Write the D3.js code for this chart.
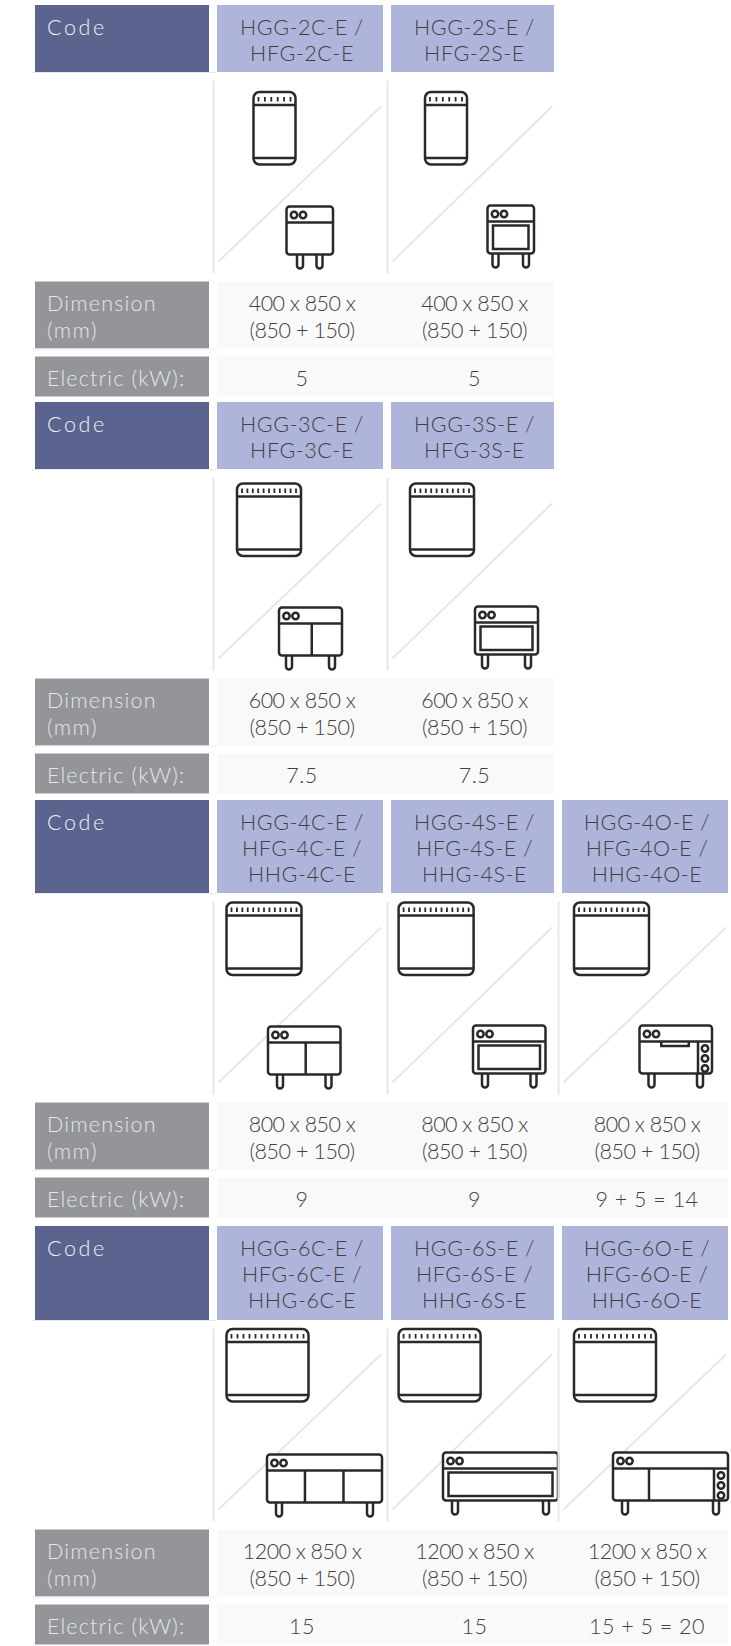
<!DOCTYPE html>
<html>
<head>
<meta charset="utf-8">
<script src="https://cdn.jsdelivr.net/npm/d3@7"></script>
<style>
  body { margin: 0; background: #fff; }
  text { font-family: Lato, sans-serif; font-weight: 300; font-size: 21.5px; }
</style>
</head>
<body>
<div id="chart"></div>
<script>
// table content
var sizes = ["2", "3", "4", "6"];
var suffixes = ["C", "S", "O"];
var brands2 = ["HGG", "HFG"];
var brands3 = ["HGG", "HFG", "HHG"];
var widths = [400, 600, 800, 1200];
var electric = [["5", "5"], ["7.5", "7.5"], ["9", "9", "9 + 5 = 14"], ["15", "15", "15 + 5 = 20"]];
var tickCounts = [6, 11, 13, 13];

// layout
var W = 731, H = 1646;
var sectionTop = [5, 402, 800, 1226];
var headHeight = [67, 67, 93, 94];
var columns = ["label", "c0", "c1", "c2"];
var colLeft = d3.scaleOrdinal().domain(columns).range([35, 217, 391, 562]);
var colRight = d3.scaleOrdinal().domain(columns).range([209, 383, 554, 728]);

// icon placement, per section: left of the tall unit, its width, its top offset
var topIconLeft = [[36.5, 34], [20, 19], [9.5, 7.6, 12], [9.5, 7.6, 12]];
var topIconWidth = [42, 64, 75, 82];
var topIconTop = [11.5, 6, 1, 0.5];
var botLeft = [[69.5, 96.5], [62, 84], [51, 82, 77.5], [50, 52, 51]];
var botWidth = [46.5, 63, 72.5, 115];
var botTop = [[126, 125], [130, 129], [125, 124, 124], [126, 124, 124]];
var bodyHeight = 48;
var legInset = [[13.5, 8], [10, 10], [12, 12, 12], [12, 12, 12]];

var ink = "#2b2829", rule = "#e6e7e8";

var svg = d3.select("#chart").append("svg")
  .attr("width", W).attr("height", H).style("display", "block");

function cellText(g, lines, x, y, anchor, fill, tracking) {
  g.append("g").selectAll("text").data(lines).join("text")
    .attr("x", x)
    .attr("y", function (d, i) { return y + i * 26.3; })
    .attr("text-anchor", anchor)
    .attr("fill", fill)
    .style("letter-spacing", function (d, i) {
      return (Array.isArray(tracking) ? tracking[i] : tracking) + "px";
    })
    .text(function (d) { return d; });
}

function roundRect(g, x, y, w, h, r) {
  return g.append("rect").attr("x", x).attr("y", y).attr("width", w).attr("height", h).attr("rx", r);
}

function hline(g, x1, x2, y) {
  g.append("line").attr("x1", x1).attr("x2", x2).attr("y1", y).attr("y2", y);
}

function vline(g, x, y1, y2) {
  g.append("line").attr("x1", x).attr("x2", x).attr("y1", y1).attr("y2", y2);
}

function drawTopUnit(g, x, y, w, ticks) {
  var h = 72.5;
  var ig = g.append("g").attr("fill", "none").attr("stroke", ink).attr("stroke-width", 2.5);
  roundRect(ig, x, y, w, h, 6);
  hline(ig, x, x + w, y + 13);
  hline(ig, x, x + w, y + 66);
  var tickX = d3.scalePoint().domain(d3.range(ticks)).range([x + 5, x + w - 5]);
  ig.append("g").selectAll("line").data(d3.range(ticks)).join("line")
    .attr("x1", tickX).attr("x2", tickX)
    .attr("y1", y + 5).attr("y2", y + 9.5)
    .attr("stroke-width", 1.8);
}

function drawBaseUnit(g, x, y, w, inset, type, sizeIndex) {
  var h = bodyHeight, band = 16;
  var ig = g.append("g").attr("fill", "none").attr("stroke", ink).attr("stroke-width", 2.5);
  // legs first so the body sits over them
  [x + inset, x + w - inset].forEach(function (lx) {
    var p = d3.path();
    p.moveTo(lx - 3, y + h);
    p.lineTo(lx - 3, y + h + 11);
    p.arc(lx, y + h + 11, 3, Math.PI, 0, true);
    p.lineTo(lx + 3, y + h);
    ig.append("path").attr("d", p.toString());
  });
  roundRect(ig, x, y, w, h, 3).attr("fill", "#fff");
  hline(ig, x, x + w, y + band);
  [7.5, 16.5].forEach(function (dx) {
    ig.append("circle").attr("cx", x + dx).attr("cy", y + 8.5).attr("r", 3.2);
  });
  if (type === "C") {
    var doors = sizeIndex === 3 ? [0.33, 0.665] : sizeIndex === 0 ? [] : [0.52];
    doors.forEach(function (f) { vline(ig, x + w * f, y + band, y + h); });
  } else if (type === "S") {
    ig.append("rect").attr("x", x + 5.5).attr("y", y + band + 4)
      .attr("width", w - 11).attr("height", h - band - 8.5);
  } else {
    var panel = w - 14;
    if (sizeIndex === 3) {
      vline(ig, x + 36, y + band, y + h);
    } else {
      ig.append("path").attr("d", d3.line()([
        [x + w * 0.3, y + band], [x + w * 0.3, y + band + 4.5],
        [x + w * 0.68, y + band + 4.5], [x + w * 0.68, y + band]]));
    }
    vline(ig, x + panel, y + band, y + h);
    [8, 18, 28].forEach(function (dy) {
      ig.append("circle").attr("cx", x + panel + 7).attr("cy", y + band + dy - 1).attr("r", 3.2);
    });
  }
}

sizes.forEach(function (size, s) {
  var top = sectionTop[s];
  var cols = electric[s].length;
  var brands = cols === 3 ? brands3 : brands2;
  var usedCols = columns.slice(1, cols + 1);
  var g = svg.append("g");

  var headBottom = top + headHeight[s];
  var imgTop = headBottom + 8.5;
  var imgBottom = imgTop + 193;
  var dimTop = imgBottom + 8;
  var dimBottom = dimTop + 67;
  var elecTop = dimBottom + 8;
  var elecBottom = Math.min(elecTop + 40, H);

  // left label cells
  var lx = colLeft("label"), lw = colRight("label") - lx;
  g.append("rect").attr("x", lx).attr("y", top).attr("width", lw).attr("height", headBottom - top).attr("fill", "#5b648f");
  g.append("rect").attr("x", lx).attr("y", dimTop).attr("width", lw).attr("height", dimBottom - dimTop).attr("fill", "#939598");
  g.append("rect").attr("x", lx).attr("y", elecTop).attr("width", lw).attr("height", elecBottom - elecTop).attr("fill", "#939598");
  cellText(g, ["Code"], lx + 12, top + 29.7, "start", "#f1f2f6", 2.6);
  cellText(g, ["Dimension", "(mm)"], lx + 12, dimTop + 29.7, "start", "#e6e7e8", [1.2, 1.5]);
  cellText(g, ["Electric (kW):"], lx + 12, elecTop + 29.7, "start", "#e6e7e8", 1.15);

  // faint strips behind the values
  var stripRight = colRight(usedCols[usedCols.length - 1]);
  g.append("rect").attr("x", colLeft("c0")).attr("y", dimTop).attr("width", stripRight - colLeft("c0")).attr("height", dimBottom - dimTop).attr("fill", "#f9f9f9");
  g.append("rect").attr("x", colLeft("c0")).attr("y", elecTop).attr("width", stripRight - colLeft("c0")).attr("height", elecBottom - elecTop).attr("fill", "#f9f9f9");

  usedCols.forEach(function (col, c) {
    var left = colLeft(col), right = colRight(col), mid = (left + right) / 2 + 2;
    var suffix = suffixes[c];
    var code = brands.map(function (b, i) {
      return b + "-" + size + suffix + "-E" + (i < brands.length - 1 ? " /" : "");
    });
    g.append("rect").attr("x", left).attr("y", top).attr("width", right - left).attr("height", headBottom - top).attr("fill", "#afb5da");
    cellText(g, code, mid, top + 29.7, "middle", "#414042", 0.55);

    // picture cell frame
    var fg = g.append("g").attr("stroke", rule).attr("stroke-width", 2).attr("fill", "none");
    vline(fg, left - 3.5, imgTop, imgBottom);
    fg.append("line")
      .attr("x1", left + 1.5).attr("y1", imgTop + 181)
      .attr("x2", right - 2).attr("y2", imgTop + 26);

    drawTopUnit(g, left + topIconLeft[s][c], imgTop + topIconTop[s], topIconWidth[s], tickCounts[s]);
    drawBaseUnit(g, left + botLeft[s][c], imgTop + botTop[s][c], botWidth[s], legInset[s][c], suffix, s);

    cellText(g, [widths[s] + " x 850 x", "(850 + 150)"], mid, dimTop + 29.7, "middle", "#414042", [-0.55, -0.45]);
    cellText(g, [electric[s][c]], mid, elecTop + 29.7, "middle", "#414042", 0.5);
  });

  // hairlines under the label cells
  var hair = g.append("g").attr("stroke", "#e9e9ef").attr("stroke-width", 1);
  hline(hair, lx - 3, 216, headBottom + 0.5);
  hline(hair, lx - 3, 216, dimBottom + 0.5);
});
</script>
</body>
</html>
